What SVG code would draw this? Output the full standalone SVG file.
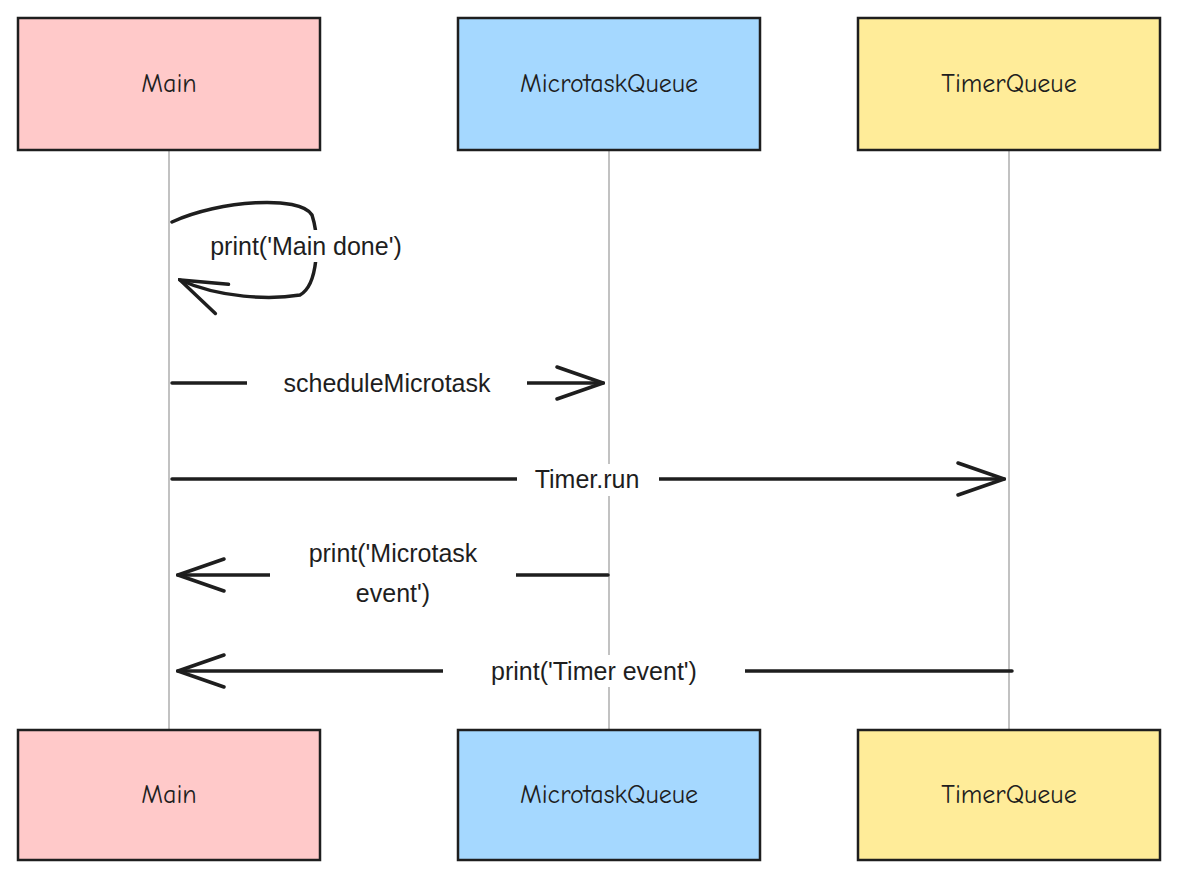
<svg xmlns="http://www.w3.org/2000/svg" width="1180" height="880" viewBox="0 0 1180 880">
<style>
.box{stroke:#1e1e1e;stroke-width:2.5}
.t{font-family:"Comic Neue","Liberation Sans",sans-serif;font-size:26px;fill:#1e1e1e;text-anchor:middle;dominant-baseline:central}
.life{stroke:#999;stroke-width:1.2}
.msg{stroke:#1e1e1e;stroke-width:3.5;fill:none;stroke-linecap:round}
.lbl{font-family:"Liberation Sans",sans-serif;font-size:25px;fill:#1e1e1e;text-anchor:middle;dominant-baseline:central}
.bg{fill:#fff}
</style>
<defs>
<marker id="ah" viewBox="0 0 20 20" refX="18" refY="10" markerWidth="14" markerHeight="14" markerUnits="userSpaceOnUse" orient="auto">
<path d="M0,0 L18,10 L0,20" fill="none" stroke="#1e1e1e" stroke-width="2.5" stroke-linecap="round"/>
</marker>
<marker id="big" viewBox="0 0 50 40" refX="48" refY="20" markerWidth="50" markerHeight="40" markerUnits="userSpaceOnUse" orient="auto">
<path d="M2,4 L48,20 L2,36" fill="none" stroke="#1e1e1e" stroke-width="3.5" stroke-linecap="round"/>
</marker>
</defs>
<rect width="1180" height="880" fill="#fff"/>
<g id="lifelines">
<line class="life" x1="169" y1="150" x2="169" y2="730"/>
<line class="life" x1="609" y1="150" x2="609" y2="730"/>
<line class="life" x1="1009" y1="150" x2="1009" y2="730"/>
</g>
<g id="main-top"><rect class="box" x="18" y="18" width="302" height="132" fill="#ffc9c9"/><text class="t" x="169" y="84">Main</text></g>
<g id="mq-top"><rect class="box" x="458" y="18" width="302" height="132" fill="#a5d8ff"/><text class="t" x="609" y="84">MicrotaskQueue</text></g>
<g id="tq-top"><rect class="box" x="858" y="18" width="302" height="132" fill="#ffec99"/><text class="t" x="1009" y="84">TimerQueue</text></g>
<g id="main-bot"><rect class="box" x="18" y="730" width="302" height="130" fill="#ffc9c9"/><text class="t" x="169" y="795">Main</text></g>
<g id="mq-bot"><rect class="box" x="458" y="730" width="302" height="130" fill="#a5d8ff"/><text class="t" x="609" y="795">MicrotaskQueue</text></g>
<g id="tq-bot"><rect class="box" x="858" y="730" width="302" height="130" fill="#ffec99"/><text class="t" x="1009" y="795">TimerQueue</text></g>
<g id="connectors">
<path class="msg" marker-end="url(#big)" d="M172,222 C220,200 300,195 312,215 C320,240 318,285 300,295 C270,300 220,298 180,280"/>
<rect class="bg" x="172" y="230" width="268" height="32"/>
<text class="lbl" x="306" y="246">print('Main done')</text>
<line class="msg" marker-end="url(#big)" x1="172" y1="383" x2="603" y2="383"/>
<rect class="bg" x="247" y="368" width="280" height="32"/>
<text class="lbl" x="387" y="383">scheduleMicrotask</text>
<line class="msg" marker-end="url(#big)" x1="172" y1="479" x2="1004" y2="479"/>
<rect class="bg" x="517" y="464" width="142" height="32"/>
<text class="lbl" x="587" y="479">Timer.run</text>
<line class="msg" marker-end="url(#big)" x1="608" y1="575" x2="178" y2="575"/>
<rect class="bg" x="270" y="536" width="246" height="76"/>
<text class="lbl" x="393" y="553">print('Microtask</text>
<text class="lbl" x="393" y="593">event')</text>
<line class="msg" marker-end="url(#big)" x1="1012" y1="671" x2="178" y2="671"/>
<rect class="bg" x="443" y="655" width="302" height="32"/>
<text class="lbl" x="594" y="671">print('Timer event')</text>
</g>
</svg>
